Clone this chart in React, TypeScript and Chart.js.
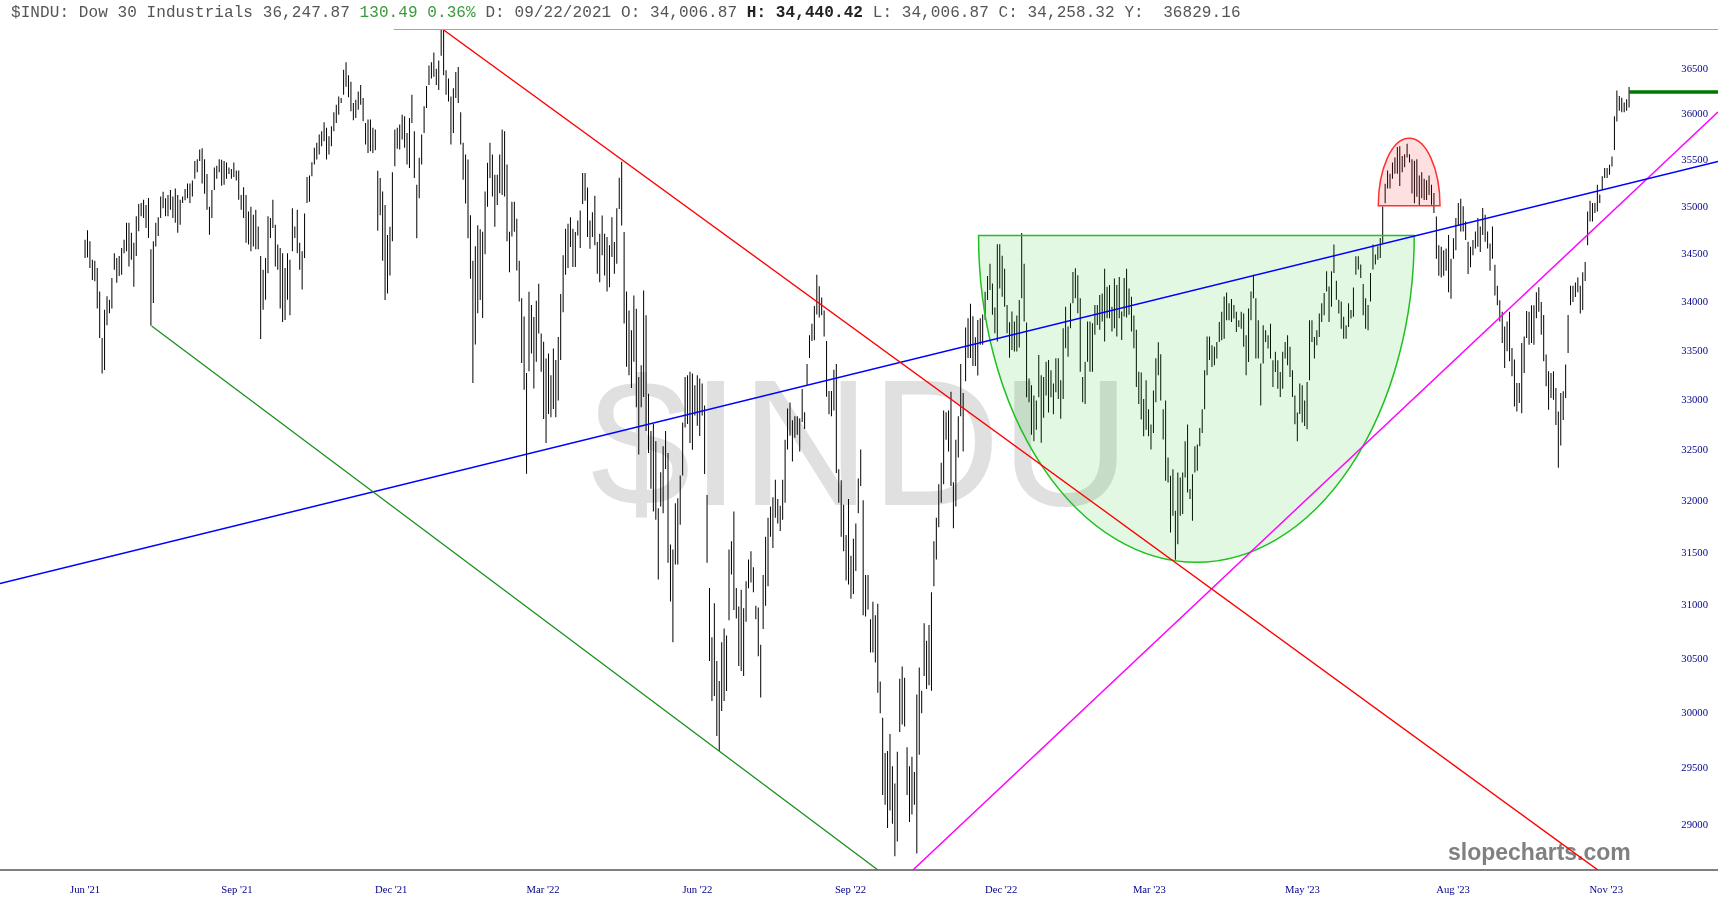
import React, { useRef, useEffect } from "react";
import Chart from "chart.js/auto";

// daily high / low
const highs = [
  34640,34740,34625,34430,34420,34345,34100,33620,33910,34050,
  34015,34240,34500,34450,34470,34555,34640,34820,34820,34715,
  34610,34890,35020,35030,35065,35010,35085,34540,34625,34820,
  34880,35100,35150,35080,35115,35170,35100,35185,35115,35065,
  35100,35180,35240,35240,35270,35480,35500,35605,35620,35500,35340,
  34990,35170,35410,35430,35500,35495,35480,35465,35410,35395,
  35465,35380,35380,35115,35200,35115,34940,34990,34905,34960,
  34780,34470,34325,34450,34890,34870,35065,34800,34590,34555,
  34500,34345,34500,34430,34975,34780,34960,34610,34520,34920,
  35310,35325,
  35468,35624,35678,35768,35804,35902,35841,35750,35859,36011,
  36094,36185,36167,36481,36565,36420,36347,36112,36149,36239,
  36311,36167,35895,35931,35931,35841,35823,35377,35298,35153,
  35008,34692,34777,35359,35823,35841,35877,35985,35967,35786,
  35949,36203,35804,35225,35515,35768,36076,36300,36528,36565,
  36673,36492,36583,36927,36927,36474,36384,36185,36275,36456,
  36510,36011,35678,35551,35497,34900,34420,34573,34794,34753,
  34726,35153,35461,35678,35551,35334,35334,35551,35823,35804,
  35443,34726,35044,35044,34863,34420,34029,33842,33264,34097,
  33961,33836,34005,34180,33666,33581,33412,33463,33242,33514,
  33395,33632,34075,34477,34757,34810,34880,34757,34722,34845,
  34950,35352,35352,35195,34845,34932,35107,34617,34705,34897,
  34705,34670,34582,34880,34617,34974,35300,35474,34722,34099,
  33903,33700,34057,33920,33225,33344,34110,33853,33056,32683,
  32751,32581,31923,32274,32530,32683,32465,31572,31524,31971,
  32019,32242,32768,33225,33242,33276,33259,33141,33242,33208,
  33157,32937,32051,31157,30695,31014,30473,30288,30647,30775,
  30711,31524,31604,31891,31157,30982,31141,30966,31221,
  31428,31509,31355,30990,30972,30625,31282,31647,31830,31939,
  32031,32202,32012,31947,32202,32595,32907,32966,32790,32830,
  32830,32810,33103,32869,33356,33649,33766,33949,34273,34155,
  34038,33902,33590,33083,33083,33297,33356,32303,32195,31958,
  31665,32012,31465,31629,31775,32213,32498,32000,31282,31282,
  30862,31027,30899,31009,30284,29951,29632,29649,29803,29512,
  29358,29642,30308,30423,30318,29683,29512,29598,29461,30164,
  30412,30198,30826,30662,30808,31118,31604,31830,32158,32369,
  32888,32869,32888,33075,32177,32595,32830,33356,33063,33727,
  33824,33972,33843,33629,33804,33824,33863,34097,
  34261,34388,34183,33933,34593,34593,34473,34337,33960,33783,
  33892,33789,33851,34012,34713,34388,33779,33208,33140,33037,
  32986,33447,33242,33225,33379,33396,33293,33157,33413,33413,
  33191,33721,33943,33738,33977,34302,34343,34268,34029,33225,
  33379,33789,33789,33772,33960,33960,34063,34080,34337,34149,
  34166,33943,34234,34166,34251,33892,34241,34337,34131,34046,
  33851,33704,33276,33270,33003,33191,32900,32746,33088,33413,
  33577,33454,32900,32986,32419,32240,32305,31899,32272,32224,
  32272,32581,32746,32110,32256,32532,32549,32712,32900,33293,
  33635,33635,
  33546,33530,33580,33785,33890,34047,34090,33978,34023,33960,
  33890,33802,33890,33872,33648,33925,34100,34275,34030,33802,
  33360,33750,33699,33648,33767,33394,33479,33394,33275,33479,
  33580,33648,33530,33292,33038,32868,33157,33140,32987,33174,
  33802,33802,33631,33699,33872,33978,34083,34310,34152,34310,
  34590,34212,34013,33995,33838,33750,33978,33907,34142,34468,
  34468,34380,34177,34030,33960,34293,34590,34485,34572,34660,
  34993,35237,35378,35343,35465,35518,35633,35640,35535,35553,
  35668,35553,35500,35483,35500,35325,35360,35290,35273,35325,
  35227,35137,34888,34584,34567,34531,34549,34692,34442,34656,
  34870,35030,35077,34995,34834,34620,34567,34638,34727,34870,
  34781,34977,34906,34727,34602,34781,34378,34160,34008,33890,
  33738,33789,33890,33519,33400,33164,33164,33569,33637,33897,
  33890,33958,33958,34093,34144,33992,33856,33451,33282,33265,
  33282,33113,32877,33062,33079,33350,33856,34160,34160,34194,
  34246,34160,34299,34406,34941,35055,35030,35030,35227,35120,
  35316,35405,35405,35441,35530,35968,36250,36190,36172,36118,
  36154,36290,
];

const lows = [
  34450,34455,34345,34220,34205,33925,33620,33260,33295,33750,
  33875,33925,34325,34190,34260,34275,34500,34520,34360,34430,
  34150,34470,34730,34890,34870,34765,34660,33745,33980,34570,
  34680,34870,34975,34890,34890,34960,34870,34820,34715,34800,
  35030,35060,35080,35030,35100,35290,35360,35480,35240,35130,34960,
  34695,34870,35170,35290,35360,35215,35225,35290,35340,35290,
  35310,35270,35065,34960,34870,34610,34590,34520,34570,34540,
  34540,33610,33910,34015,34290,34660,34765,34360,34325,33925,
  33785,33805,34015,33855,34520,34660,34500,34325,34120,34450,
  35030,35045,
  35316,35443,35497,35551,35642,35696,35497,35551,35642,35804,
  35895,35985,36112,36203,36293,36177,36022,35924,35949,36040,
  36094,35913,35660,35569,35587,35569,35598,34736,34900,34420,
  34012,34080,34267,34624,35424,35613,35605,35714,35624,35443,
  35406,35895,35298,34658,35080,35443,35786,36058,36311,36384,
  36402,36311,36257,36637,36420,36203,36130,35660,35786,36167,
  36112,35660,35280,35026,34658,34233,33162,33553,33876,34012,
  33825,34488,34990,35298,35099,34777,35008,35135,35117,35099,
  34624,34301,34675,34726,34318,33995,33366,33094,32261,33281,
  33463,33107,33378,33666,33276,32802,32564,32852,32819,32903,
  32819,32988,33395,33886,34274,34344,34565,34355,34355,34687,
  34554,35020,35055,34670,34547,34670,34582,34285,34197,34477,
  34267,34099,34145,34459,34285,34389,34967,34792,33768,33327,
  33242,33113,33378,32920,32449,32920,33022,32683,32465,32114,
  31891,31811,31237,31939,31875,32306,31397,31030,30647,31380,
  31380,31763,32242,32717,32751,32564,32497,32836,32734,32632,
  32836,32258,31397,30473,30104,30150,29785,29650,30012,30104,
  30196,30854,31285,30950,30870,30426,30380,30334,30838,
  31155,31209,31118,30862,30516,30136,30771,30990,31173,31647,
  31538,31830,31775,31702,31812,31976,32498,32635,32381,32615,
  32646,32478,32771,32701,33142,33417,33590,33598,33863,33832,
  33855,33637,33024,32849,32830,32888,32268,31976,31647,31509,
  31228,31191,31056,31100,31319,31874,32140,30899,30888,30954,
  30552,30552,30460,30181,29992,29255,29169,28963,29117,29001,
  28716,28843,29821,29889,29872,29255,29015,29083,29169,28740,
  29615,29992,30335,30215,30249,30198,31173,31428,31739,31976,
  32158,32595,32478,32140,31728,31939,32420,32830,32478,33180,
  33417,33417,33336,33336,33239,33551,33551,33804,
  34012,34114,33858,33670,33584,34131,34046,33943,33670,33420,
  33499,33482,33482,33523,34029,33789,33020,32969,32646,32581,
  32695,33020,32565,32815,33037,32866,33020,32849,33071,33003,
  32804,33003,33516,33430,33721,33977,34029,33875,33276,32969,
  32952,33379,33276,33276,33653,33755,33704,33789,33584,33824,
  33824,33687,33721,33635,33824,33601,33841,33830,33858,33687,
  33516,33122,32952,32798,32630,32695,32630,32500,32662,32969,
  33242,32986,32597,32191,32175,31688,31850,31427,31574,31850,
  31866,32224,32077,32012,31801,32272,32289,32532,32662,32900,
  33242,33396,
  33326,33343,33411,33580,33597,33614,33802,33802,33785,33820,
  33682,33732,33716,33530,33241,33377,33802,34030,33411,33411,
  32936,33360,33580,33513,33411,33123,33275,33106,33021,33106,
  33411,33343,33224,33021,32750,32580,32851,32767,32733,32699,
  33191,33580,33411,33546,33631,33785,33855,34100,33785,33943,
  34293,34013,33872,33716,33614,33614,33732,33820,33838,34275,
  34328,34240,33855,33716,33699,33995,34328,34380,34432,34450,
  34607,35027,35185,35185,35290,35343,35343,35213,35360,35413,
  35518,35465,35133,35027,35098,35010,35080,35063,35063,35115,
  35013,34923,34442,34263,34246,34263,34317,34093,34025,34442,
  34531,34798,34727,34727,34638,34281,34353,34478,34549,34567,
  34513,34692,34620,34549,34317,34442,34059,33958,33789,33569,
  33316,33485,33383,33231,32927,32877,32961,32860,33265,33620,
  33552,33569,33552,33823,33890,33654,33383,33130,32894,33012,
  32995,32742,32319,32539,32792,33012,33468,33958,33992,34042,
  34093,33873,33907,34208,34584,34834,34834,34923,34941,35030,
  35173,35298,35298,35334,35423,35601,35911,36029,36011,36011,
  36029,36065,
];

const xTickIndex = [0, 62.5, 126, 188.5, 252, 315, 377, 438, 501, 563, 626];
const xTickLabels = ["Jun '21", "Sep '21", "Dec '21", "Mar '22", "Jun '22", "Sep '22", "Dec '22", "Mar '23", "May '23", "Aug '23", "Nov '23"];
const yTickValues = [29000, 29500, 30000, 30500, 31000, 31500, 32000, 32500, 33000, 33500, 34000, 34500, 35000, 35500, 36000, 36500];

// drawn trend lines: bar index, price
const topLineX = [127, 672];
const topLineY = [36930, 36930];
const redLineX = [147.3, 622.6];
const redLineY = [36930, 28595];
const greenLineX = [27.4, 326.3];
const greenLineY = [33743, 28595];
const blueLineX = [-35, 672];
const blueLineY = [31200, 35476];
const magentaLineX = [340.7, 672];
const magentaLineY = [28595, 36015];
const lastLineX = [635.4, 672];
const lastLineY = [36235, 36235];

// cup and dome: left bar, right bar, rim price, extreme price
const cup = [367.7, 547, 34687, 31402];
const dome = [532.2, 557.6, 35000, 35727];

const seg = (xs: number[], ys: number[]) => xs.map((x, i) => ({ x, y: ys[i] }));

const line = (xs: number[], ys: number[], color: string, width: number) => ({
  type: "line" as const,
  data: seg(xs, ys),
  borderColor: color,
  borderWidth: width,
  pointRadius: 0,
  tension: 0,
  order: 1,
});

const overlay = {
  id: "overlay",
  beforeDatasetsDraw(chart: any) {
    const { ctx } = chart;
    ctx.save();
    ctx.fillStyle = "#e0e0e0";
    ctx.font = '180px "Liberation Sans"';
    ctx.textAlign = "center";
    ctx.fillText("$INDU", 860.5, 505);
    ctx.fillStyle = "#808080";
    ctx.font = 'bold 23px "Liberation Sans"';
    ctx.textAlign = "left";
    ctx.fillText("slopecharts.com", 1448, 860);
    ctx.restore();
  },
  afterDatasetDraw(chart: any, args: any) {
    if (args.index !== 0) return;
    const { ctx, scales } = chart;
    const shape = (s: number[], start: number, end: number, fill: string, stroke: string) => {
      const x0 = scales.x.getPixelForValue(s[0]);
      const x1 = scales.x.getPixelForValue(s[1]);
      const rim = scales.y.getPixelForValue(s[2]);
      const far = scales.y.getPixelForValue(s[3]);
      ctx.beginPath();
      ctx.ellipse((x0 + x1) / 2, rim, (x1 - x0) / 2, Math.abs(far - rim), 0, start, end);
      ctx.closePath();
      ctx.fillStyle = fill;
      ctx.fill();
      ctx.strokeStyle = stroke;
      ctx.lineWidth = 1.5;
      ctx.stroke();
    };
    ctx.save();
    shape(cup, 0, Math.PI, "rgba(0,190,0,0.11)", "#20c020");
    shape(dome, Math.PI, Math.PI * 2, "rgba(255,0,0,0.12)", "#ff3030");
    ctx.restore();
  },
};

const axisFont = { family: '"Liberation Serif"', size: 10.67 };

// no margins around the plot: labels sit inside the full canvas
const noPadding = (s: any) => {
  s.paddingLeft = 0;
  s.paddingRight = 0;
  s.paddingTop = 0;
  s.paddingBottom = 0;
};

export default function App() {
  const chartRef = useRef<HTMLCanvasElement | null>(null);
  const chartInstanceRef = useRef<Chart | null>(null);

  useEffect(() => {
    const ctx = chartRef.current?.getContext("2d");
    if (!ctx) return;

    // last bar ends where the last-price line starts
    const barStep = lastLineX[0] / (highs.length - 1);

    chartInstanceRef.current = new Chart(ctx, {
      type: "bar",
      data: {
        datasets: [
          {
            data: highs.map((h, i) => ({ x: i * barStep, y: [lows[i], h] })),
            backgroundColor: "#000000",
            barThickness: 1,
            inflateAmount: 0,
            order: 3,
          } as any,
          line(topLineX, topLineY, "#7fbf7f", 1.2),
          line(redLineX, redLineY, "#ff0000", 1.5),
          line(greenLineX, greenLineY, "#1e8f1e", 1.3),
          line(blueLineX, blueLineY, "#0000ff", 1.5),
          line(magentaLineX, magentaLineY, "#ff00ff", 1.5),
          line(lastLineX, lastLineY, "#007800", 3.5),
        ],
      },
      options: {
        responsive: false,
        animation: false,
        layout: { padding: 0 },
        plugins: { legend: { display: false }, tooltip: { enabled: false } },
        scales: {
          x: {
            type: "linear",
            offset: false,
            min: -35,
            max: 672,
            grid: { display: false, drawTicks: false, offset: false },
            border: { display: true, color: "#808080", width: 2 },
            ticks: {
              color: "#00008b",
              font: axisFont,
              padding: 14,
              maxRotation: 0,
              autoSkip: false,
              callback: (v: any) => xTickLabels[xTickIndex.indexOf(v)] ?? "",
            },
            afterBuildTicks: (s: any) => {
              s.ticks = xTickIndex.map((value) => ({ value }));
            },
            afterFit: (s: any) => {
              s.height = 40;
              noPadding(s);
            },
          },
          y: {
            type: "logarithmic",
            position: "right",
            min: 28595,
            max: 37263,
            grid: { display: false, drawTicks: false },
            border: { display: false },
            ticks: {
              mirror: true,
              color: "#00008b",
              font: axisFont,
              padding: -10,
              labelOffset: 1,
              autoSkip: false,
              callback: (v: any) => String(v),
            },
            afterBuildTicks: (s: any) => {
              s.ticks = yTickValues.map((value) => ({ value }));
            },
            afterFit: (s: any) => {
              s.width = 0;
              noPadding(s);
            },
          },
        },
      },
      plugins: [overlay],
    } as any);

    return () => {
      if (chartInstanceRef.current) {
        chartInstanceRef.current.destroy();
      }
    };
  }, []);

  return (
    <div style={{ position: "fixed", left: 0, top: 0, width: 1718, height: 910, background: "#fff" }}>
      <canvas ref={chartRef} width={1718} height={910} style={{ display: "block" }}></canvas>
      <div
        style={{
          position: "absolute",
          left: 11,
          top: 4,
          font: '16px "Liberation Mono"',
          letterSpacing: "0.08px",
          whiteSpace: "pre",
          color: "#555555",
        }}
      >
        {"$INDU: Dow 30 Industrials 36,247.87 "}
        <span style={{ color: "#3a9a3a" }}>130.49 0.36%</span>
        {" D: 09/22/2021 O: 34,006.87 "}
        <b style={{ color: "#222222" }}>H: 34,440.42</b>
        {" L: 34,006.87 C: 34,258.32 Y:  36829.16"}
      </div>
    </div>
  );
}
